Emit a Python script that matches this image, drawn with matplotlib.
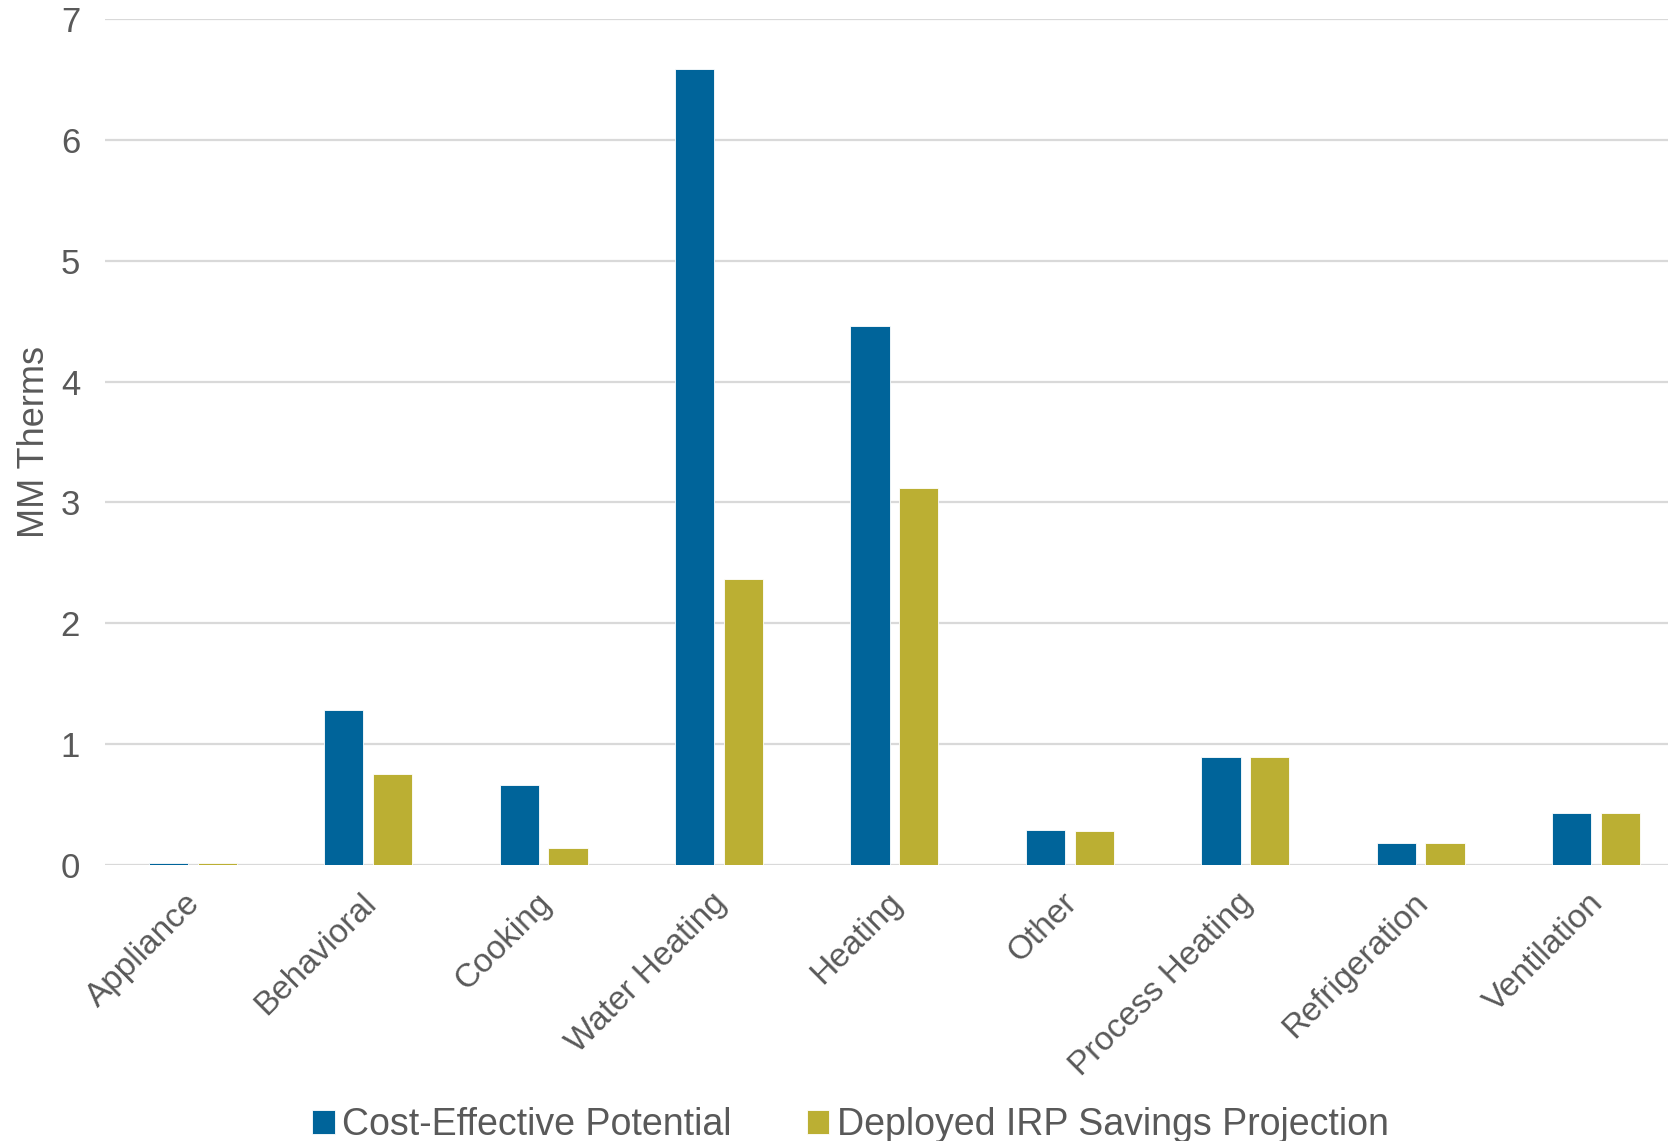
import numpy as np
import matplotlib
matplotlib.use("Agg")
import matplotlib.pyplot as plt
from matplotlib.transforms import ScaledTranslation

# End-use categories and savings (MM Therms)
categories = ["Appliance", "Behavioral", "Cooking", "Water Heating", "Heating",
              "Other", "Process Heating", "Refrigeration", "Ventilation"]
cost_effective = [0.015, 1.28, 0.66, 6.59, 4.46, 0.29, 0.89, 0.18, 0.43]
deployed_irp = [0.015, 0.75, 0.14, 2.37, 3.12, 0.28, 0.89, 0.18, 0.43]

blue = "#00649A"
gold = "#BBAF33"
text_gray = "#595959"

plt.rcParams["font.family"] = ["Liberation Sans", "DejaVu Sans"]

fig = plt.figure(figsize=(16.68, 11.41), dpi=100)
ax = fig.add_axes([0.063, 0.2419, 0.937, 0.7414])

x = np.arange(len(categories))
w = 0.224
ax.bar(x - 0.139, cost_effective, w, color=blue, edgecolor="white", linewidth=0.6,
       label="Cost-Effective Potential", zorder=3)
ax.bar(x + 0.139, deployed_irp, w, color=gold, edgecolor="white", linewidth=0.6,
       label="Deployed IRP Savings Projection", zorder=3)

ax.set_xlim(-0.5, 8.41)
ax.set_ylim(0, 7)
ax.set_yticks(range(0, 8))
ax.grid(axis="y", color="#d9d9d9", linewidth=1.6, zorder=0)
for s in ax.spines.values():
    s.set_visible(False)

ax.tick_params(axis="y", length=0, labelsize=25, colors=text_gray, pad=18)
ax.set_xticks(x)
ax.set_xticklabels(categories, rotation=45, ha="right", va="top",
                   rotation_mode="anchor")
ax.tick_params(axis="x", length=0, labelsize=24, colors=text_gray, pad=16)
shift = ScaledTranslation(-8 / 100, 0, fig.dpi_scale_trans)
for lbl in ax.get_xticklabels():
    lbl.set_transform(lbl.get_transform() + shift)

ax.set_ylabel("MM Therms", fontsize=26, color=text_gray)
ax.yaxis.set_label_coords(-0.034, 0.5)

fig.legend(loc="center", bbox_to_anchor=(0.51, 0.014), ncol=2, frameon=False,
           fontsize=27, handlelength=0.6, handleheight=0.6, handletextpad=0.2,
           columnspacing=2.0, labelcolor=text_gray)

fig.savefig("out.png", dpi=100)
